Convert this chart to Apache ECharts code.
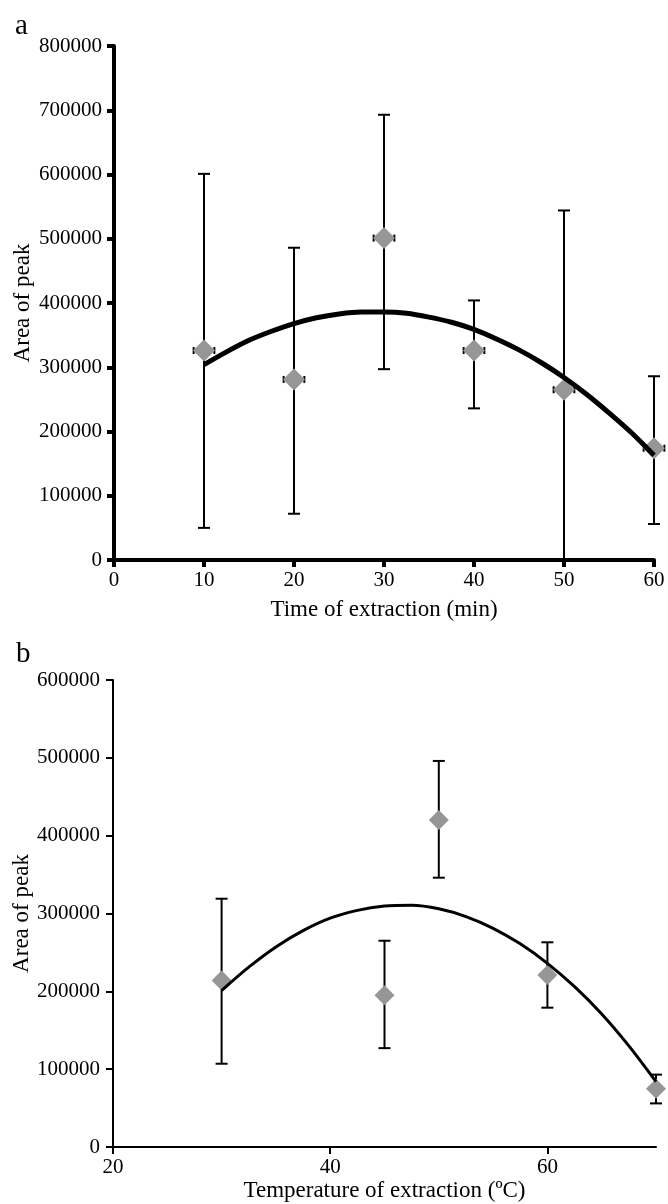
<!DOCTYPE html>
<html>
<head>
<meta charset="utf-8">
<script src="https://cdn.jsdelivr.net/npm/echarts@6/dist/echarts.min.js"></script>
<style>
  html, body { margin: 0; padding: 0; background: #fff; }
  #chart { width: 668px; height: 1204px; }
</style>
</head>
<body>
<div id="chart"></div>
<script>
// panel a: time of extraction
const timeX = [10, 20, 30, 40, 50, 60]
const timeMean = [326000, 281000, 501000, 326000, 265000, 174000]
const timeLow = [50000, 72000, 297000, 236000, 0, 56000]
const timeHigh = [601000, 486000, 693000, 404000, 544000, 286000]
const timeXErr = [1.15, 1.15, 1.15, 1.15, 1.15, 1.15]
// fitted curve, every 2.5 min
const timeFitX = [10, 12.5, 15, 17.5, 20, 22.5, 25, 27.5, 30, 32.5, 35, 37.5, 40, 42.5, 45, 47.5, 50, 52.5, 55, 57.5, 60]
const timeFitY = [304000, 324000, 342000, 356000, 368000, 377000, 383000, 386000, 386000, 384000, 378000, 370000, 359000, 344000, 327000, 307000, 284000, 258000, 229000, 198000, 163000]

// panel b: temperature of extraction
const tempX = [30, 45, 50, 60, 70]
const tempMean = [214000, 195000, 420000, 221000, 75000]
const tempLow = [107000, 127000, 346000, 179000, 56000]
const tempHigh = [319000, 265000, 496000, 263000, 93000]
// fitted curve, every 2.5 degrees
const tempFitX = [30, 32.5, 35, 37.5, 40, 42.5, 45, 47.5, 50, 52.5, 55, 57.5, 60, 62.5, 65, 67.5, 70]
const tempFitY = [201000, 231000, 257000, 278000, 294000, 304000, 309500, 310500, 306000, 296000, 281000, 261000, 236000, 206000, 171000, 130000, 84000]

const FONT = "'Liberation Serif', 'Times New Roman', serif"
const MARKER = '#969696'

const chart = echarts.init(document.getElementById('chart'), null, { renderer: 'canvas' })

// vertical error bar with caps, plus optional small horizontal bar
function errorBars(capW, lineW, hCapH) {
  return function (params, api) {
    const x = api.value(0)
    const lo = api.value(1)
    const hi = api.value(2)
    const mean = api.value(3)
    const xe = api.value(4)
    const top = api.coord([x, hi])
    const bot = api.coord([x, lo])
    const style = { stroke: '#000', lineWidth: lineW }
    const children = [
      { type: 'line', shape: { x1: top[0], y1: top[1], x2: bot[0], y2: bot[1] }, style },
      { type: 'line', shape: { x1: top[0] - capW / 2, y1: top[1], x2: top[0] + capW / 2, y2: top[1] }, style },
      { type: 'line', shape: { x1: bot[0] - capW / 2, y1: bot[1], x2: bot[0] + capW / 2, y2: bot[1] }, style },
    ]
    if (xe) {
      const l = api.coord([x - xe, mean])
      const r = api.coord([x + xe, mean])
      children.push(
        { type: 'line', shape: { x1: l[0], y1: l[1], x2: r[0], y2: r[1] }, style },
        { type: 'line', shape: { x1: l[0], y1: l[1] - hCapH / 2, x2: l[0], y2: l[1] + hCapH / 2 }, style },
        { type: 'line', shape: { x1: r[0], y1: r[1] - hCapH / 2, x2: r[0], y2: r[1] + hCapH / 2 }, style }
      )
    }
    return { type: 'group', children }
  }
}

function axisStyle(w) {
  return {
    axisLine: { show: true, onZero: false, lineStyle: { color: '#000', width: w } },
    axisTick: { show: true, length: 7, lineStyle: { color: '#000', width: w } },
    splitLine: { show: false },
  }
}

const labelStyle = { color: '#000', fontFamily: FONT, fontSize: 21, formatter: (v) => String(v) }
const nameStyle = { color: '#000', fontFamily: FONT, fontSize: 23 }

const option = {
  animation: false,
  backgroundColor: '#fff',
  title: [
    { text: 'a', left: 10, top: 7, textStyle: { fontFamily: FONT, fontSize: 29, fontWeight: 'normal', color: '#000' } },
    { text: 'b', left: 11, top: 635, textStyle: { fontFamily: FONT, fontSize: 29, fontWeight: 'normal', color: '#000' } },
  ],
  grid: [
    { left: 114, top: 46, width: 540, height: 514, outerBoundsMode: 'none', containLabel: false },
    { left: 113, top: 680, width: 543, height: 467, outerBoundsMode: 'none', containLabel: false },
  ],
  xAxis: [
    {
      gridIndex: 0, type: 'value', min: 0, max: 60, interval: 10,
      name: 'Time of extraction (min)', nameLocation: 'middle', nameGap: 38, nameTextStyle: nameStyle,
      axisLabel: { ...labelStyle, margin: 10 },
      ...axisStyle(4),
    },
    {
      gridIndex: 1, type: 'value', min: 20, max: 70,
      name: 'Temperature of extraction (ºC)', nameLocation: 'middle', nameGap: 32, nameTextStyle: nameStyle,
      axisLabel: { ...labelStyle, margin: 10, customValues: [20, 40, 60] },
      ...axisStyle(2),
      axisTick: { show: true, length: 7, lineStyle: { color: '#000', width: 2 }, customValues: [20, 40, 60] },
    },
  ],
  yAxis: [
    {
      gridIndex: 0, type: 'value', min: 0, max: 800000, interval: 100000,
      name: 'Area of peak', nameLocation: 'middle', nameGap: 80, nameTextStyle: nameStyle, nameMoveOverlap: false,
      axisLabel: { ...labelStyle, margin: 12 },
      ...axisStyle(4),
    },
    {
      gridIndex: 1, type: 'value', min: 0, max: 600000, interval: 100000,
      name: 'Area of peak', nameLocation: 'middle', nameGap: 80, nameTextStyle: nameStyle, nameMoveOverlap: false,
      axisLabel: { ...labelStyle, margin: 13 },
      ...axisStyle(2),
    },
  ],
  series: [
    {
      type: 'custom', xAxisIndex: 0, yAxisIndex: 0, z: 2,
      renderItem: errorBars(12, 2, 7),
      data: timeX.map((x, i) => [x, timeLow[i], timeHigh[i], timeMean[i], timeXErr[i]]),
    },
    {
      type: 'scatter', xAxisIndex: 0, yAxisIndex: 0, z: 3,
      symbol: 'diamond', symbolSize: [22, 22],
      itemStyle: { color: MARKER, opacity: 1 },
      data: timeX.map((x, i) => [x, timeMean[i]]),
    },
    {
      type: 'line', xAxisIndex: 0, yAxisIndex: 0, z: 4,
      smooth: 0.3, showSymbol: false, symbol: 'none',
      lineStyle: { color: '#000', width: 5 },
      data: timeFitX.map((x, i) => [x, timeFitY[i]]),
    },
    {
      type: 'custom', xAxisIndex: 1, yAxisIndex: 1, z: 2,
      renderItem: errorBars(12, 2, 0),
      data: tempX.map((x, i) => [x, tempLow[i], tempHigh[i], tempMean[i], 0]),
    },
    {
      type: 'scatter', xAxisIndex: 1, yAxisIndex: 1, z: 3,
      symbol: 'diamond', symbolSize: [20, 20],
      itemStyle: { color: MARKER, opacity: 1 },
      data: tempX.map((x, i) => [x, tempMean[i]]),
    },
    {
      type: 'line', xAxisIndex: 1, yAxisIndex: 1, z: 4,
      smooth: 0.3, showSymbol: false, symbol: 'none',
      lineStyle: { color: '#000', width: 3 },
      data: tempFitX.map((x, i) => [x, tempFitY[i]]),
    },
  ],
}

chart.setOption(option)
</script>
</body>
</html>
